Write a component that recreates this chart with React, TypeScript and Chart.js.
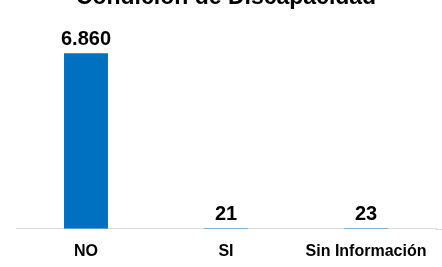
import React, { useEffect, useRef } from "react";
import { Chart, registerables } from "chart.js";

Chart.register(...registerables);

const TITLE = "Condición de Discapacidad";
const categories = ["NO", "SI", "Sin Información"];
const values = [6860, 21, 23];
const Y_MAX = 7000;
const BAR_COLOR = "#0070C0";
const AXIS_COLOR = "#D9D9D9";
const FONT = "'Liberation Sans', Arial, sans-serif";

function formatNum(v: number): string {
  return String(Math.round(v)).replace(/\B(?=(\d{3})+(?!\d))/g, ".");
}

const dataLabels = {
  id: "dataLabels",
  afterDatasetsDraw(chart: any) {
    const ctx = chart.ctx;
    const meta = chart.getDatasetMeta(0);
    ctx.save();
    ctx.font = `bold 20px ${FONT}`;
    ctx.fillStyle = "#000000";
    ctx.textAlign = "center";
    ctx.textBaseline = "alphabetic";
    meta.data.forEach((el: any, i: number) => {
      const v = chart.data.datasets[0].data[i] as number;
      ctx.fillText(formatNum(v), el.x, el.y - 8.5);
    });
    ctx.restore();
  },
};

const axisExtend = {
  id: "axisExtend",
  afterDraw(chart: any) {
    const { ctx, chartArea, width } = chart;
    ctx.save();
    ctx.strokeStyle = AXIS_COLOR;
    ctx.lineWidth = 1;
    const y = Math.round(chartArea.bottom) + 0.5;
    ctx.beginPath();
    ctx.moveTo(chartArea.right, y);
    ctx.lineTo(width, y);
    ctx.stroke();
    ctx.restore();
  },
};

export default function App() {
  const ref = useRef<HTMLCanvasElement | null>(null);
  useEffect(() => {
    if (!ref.current) return;
    const chart = new Chart(ref.current, {
      type: "bar",
      data: {
        labels: categories,
        datasets: [
          {
            data: values,
            backgroundColor: BAR_COLOR,
            borderWidth: 0,
            barPercentage: 0.314,
            categoryPercentage: 1,
          },
        ],
      },
      options: {
        animation: false,
        responsive: true,
        maintainAspectRatio: false,
        layout: { padding: { left: 16, right: 6, top: 0, bottom: 6 } },
        plugins: {
          legend: { display: false },
          tooltip: { enabled: false },
          title: {
            display: true,
            text: TITLE,
            color: "#000000",
            font: { family: FONT, size: 23, weight: "bold" },
            padding: { top: 0, bottom: 38 },
          },
        },
        scales: {
          x: {
            grid: { display: false, drawTicks: false },
            border: { display: true, color: AXIS_COLOR, width: 1 },
            ticks: {
              color: "#000000",
              padding: 13,
              font: { family: FONT, size: 16, weight: "bold" },
              maxRotation: 0,
              autoSkip: false,
            },
          },
          y: {
            display: false,
            min: 0,
            max: Y_MAX,
          },
        },
      },
      plugins: [dataLabels, axisExtend],
    });
    return () => chart.destroy();
  }, []);
  return (
    <div
      style={{
        position: "fixed",
        left: 0,
        top: -16,
        width: 442,
        height: 296,
      }}
    >
      <canvas ref={ref} />
    </div>
  );
}
